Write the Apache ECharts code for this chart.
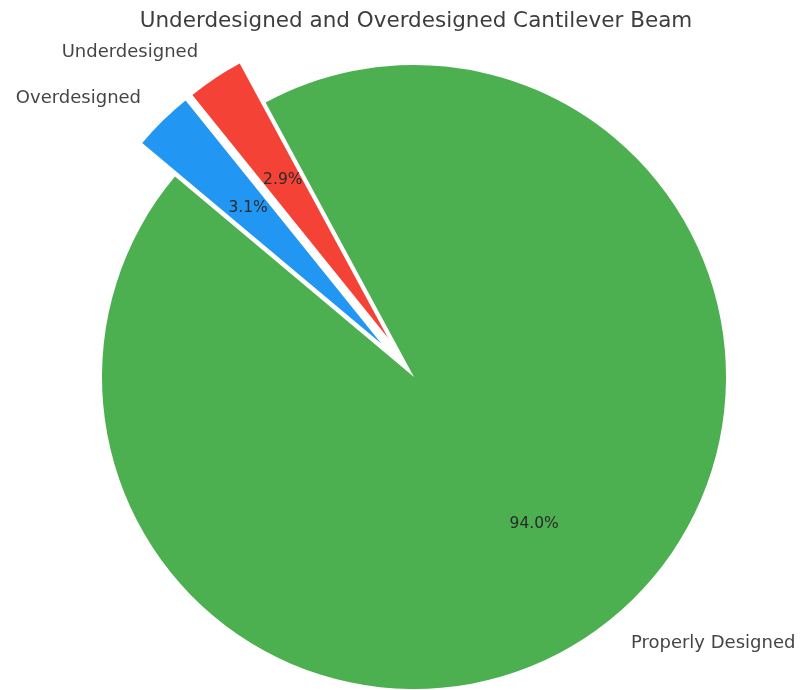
<!DOCTYPE html>
<html>
<head>
<meta charset="utf-8">
<script src="https://cdn.jsdelivr.net/npm/echarts@6/dist/echarts.min.js"></script>
<style>
  html, body { margin: 0; padding: 0; background: #ffffff; }
  #chart { width: 808px; height: 690px; }
</style>
</head>
<body>
<div id="chart"></div>
<script>
// Design outcome shares for the cantilever beam study (percent)
const categories = ['Properly Designed', 'Underdesigned', 'Overdesigned'];
const shares = [94.0, 2.9, 3.1];
const exploded = [false, true, true];
const sliceColors = ['#4caf50', '#f44336', '#2196f3'];

const CX = 414, CY = 377, R = 312;
const OFFSET = 0.15 * R;

const total = shares.reduce((a, b) => a + b, 0);
const fontFamily = '"DejaVu Sans", sans-serif';

const sliceData = categories.map((name, i) => ({
  name: name,
  value: shares[i],
  selected: exploded[i],
  itemStyle: { color: sliceColors[i] }
}));

const pctData = categories.map((name, i) => ({
  name: name,
  value: shares[i],
  selected: exploded[i],
  itemStyle: { color: 'rgba(0,0,0,0)' }
}));

const chart = echarts.init(document.getElementById('chart'), null, { renderer: 'canvas' });

chart.setOption({
  animation: false,
  backgroundColor: '#ffffff',
  title: {
    text: 'Underdesigned and Overdesigned Cantilever Beam',
    left: CX - 3,
    textAlign: 'center',
    top: 5,
    textStyle: {
      fontFamily: fontFamily,
      fontSize: 21.5,
      fontWeight: 'normal',
      color: '#3d3d3d'
    }
  },
  series: [
    {
      type: 'pie',
      center: [CX, CY],
      radius: [0, R],
      clockwise: false,
      startAngle: 140,
      selectedMode: 'multiple',
      selectedOffset: OFFSET,
      avoidLabelOverlap: false,
      silent: true,
      label: {
        show: true,
        position: 'outside',
        distanceToLabelLine: 0,
        fontFamily: fontFamily,
        fontSize: 18,
        color: '#454545',
        formatter: '{b}'
      },
      labelLine: {
        show: true,
        length: 0.1 * R,
        length2: 0,
        lineStyle: { width: 0, opacity: 0 }
      },
      itemStyle: { borderWidth: 0 },
      select: { itemStyle: { borderWidth: 0 } },
      data: sliceData
    },
    {
      // transparent ring used only to place the percentage labels at 0.6 R
      type: 'pie',
      center: [CX, CY],
      radius: [0, 1.2 * R],
      clockwise: false,
      startAngle: 140,
      selectedMode: 'multiple',
      selectedOffset: OFFSET,
      avoidLabelOverlap: false,
      silent: true,
      z: 3,
      label: {
        show: true,
        position: 'inside',
        fontFamily: fontFamily,
        fontSize: 15.5,
        color: '#2a2a2a',
        formatter: function (p) {
          return (p.value / total * 100).toFixed(1) + '%';
        }
      },
      labelLine: { show: false },
      itemStyle: { borderWidth: 0 },
      select: { itemStyle: { borderWidth: 0, color: 'rgba(0,0,0,0)' } },
      data: pctData
    }
  ]
});
</script>
</body>
</html>
